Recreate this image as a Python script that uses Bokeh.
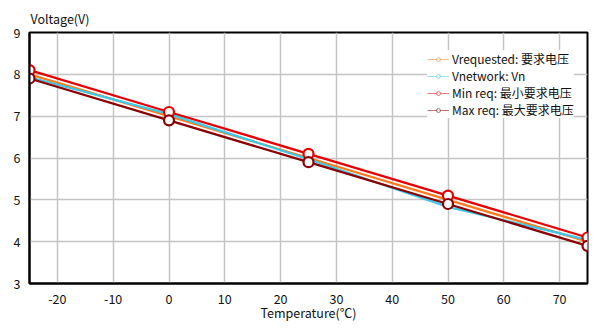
from bokeh.plotting import figure
from bokeh.models import Legend, LegendItem, Title, FixedTicker, Range1d
from bokeh.embed import file_html
from bokeh.resources import INLINE

temps = [-25, 0, 25, 50, 75]
v_requested = [8.0, 7.0, 6.0, 5.0, 4.0]
v_network = [7.93, 7.05, 5.97, 4.83, 4.04]
min_req = [8.1, 7.1, 6.1, 5.1, 4.1]
max_req = [7.9, 6.9, 5.9, 4.9, 3.9]
x_ticks = [-20, -10, 0, 10, 20, 30, 40, 50, 60, 70]
y_ticks = [3, 4, 5, 6, 7, 8, 9]
labels = ["Vrequested: 要求电压", "Vnetwork: Vn", "Min req: 最小要求电压", "Max req: 最大要求电压"]

FONT = "Noto Sans CJK SC"

p = figure(width=600, height=328, output_backend="svg", toolbar_location=None,
           x_range=Range1d(-25, 75), y_range=Range1d(3, 9),
           min_border_left=29, min_border_right=13, min_border_top=32, min_border_bottom=45)
p.outline_line_color = "black"
p.outline_line_width = 2
p.background_fill_color = "white"

for ax in (p.xaxis[0], p.yaxis[0]):
    ax.axis_line_color = "black"
    ax.axis_line_width = 2
    ax.major_tick_line_color = None
    ax.minor_tick_line_color = None
    ax.major_label_text_font = FONT
    ax.major_label_text_font_size = "12.5px"
    ax.major_label_text_color = "#111111"
p.xaxis[0].ticker = FixedTicker(ticks=x_ticks)
p.yaxis[0].ticker = FixedTicker(ticks=y_ticks)
p.xaxis[0].major_label_overrides = {t: str(t) for t in x_ticks}
p.xaxis[0].major_label_standoff = 4
p.yaxis[0].major_label_standoff = 3
p.xaxis[0].axis_label = "Temperature(℃)"
p.xaxis[0].axis_label_text_font = FONT
p.xaxis[0].axis_label_text_font_size = "12.5px"
p.xaxis[0].axis_label_text_font_style = "normal"
p.xaxis[0].axis_label_text_color = "#111111"
p.xaxis[0].axis_label_standoff = -4
p.xgrid.ticker = FixedTicker(ticks=x_ticks)
p.ygrid.ticker = FixedTicker(ticks=y_ticks)
p.grid.grid_line_color = "#c4c4c4"
p.grid.grid_line_width = 1.5

colors = ["#ff7a1a", "#3cc8e6", "#e60000", "#8b0000"]
series = [v_requested, v_network, min_req, max_req]

for ys, c in zip(series, colors):
    p.line(temps, ys, line_color=c, line_width=2.3)

for ys, c in zip([min_req, max_req], colors[2:]):
    p.scatter(temps, ys, size=10, marker="circle", fill_color="white", line_color=c, line_width=2.2)

items = []
nan = [float("nan")]
for lab, c in zip(labels, colors):
    r1 = p.line(nan, nan, line_color=c, line_alpha=0.55, line_width=1)
    r2 = p.scatter(nan, nan, size=6, marker="circle", fill_color="white", line_color=c, line_alpha=0.55)
    items.append(LegendItem(label=lab, renderers=[r1, r2]))

legend = Legend(items=items, location=(398, 165), background_fill_alpha=1.0,
                border_line_color=None, label_text_font=FONT, label_text_font_size="12px",
                label_text_color="#111111", glyph_width=22, glyph_height=10, spacing=0,
                label_standoff=3, padding=4, margin=0, label_height=10)
p.add_layout(legend, "center")

p.add_layout(Title(text="Voltage(V)", align="left", offset=1, standoff=10,
                   text_font=FONT, text_font_size="12.5px", text_font_style="normal",
                   text_color="#111111"), "above")

open("out.html", "w").write(file_html(p, INLINE))
